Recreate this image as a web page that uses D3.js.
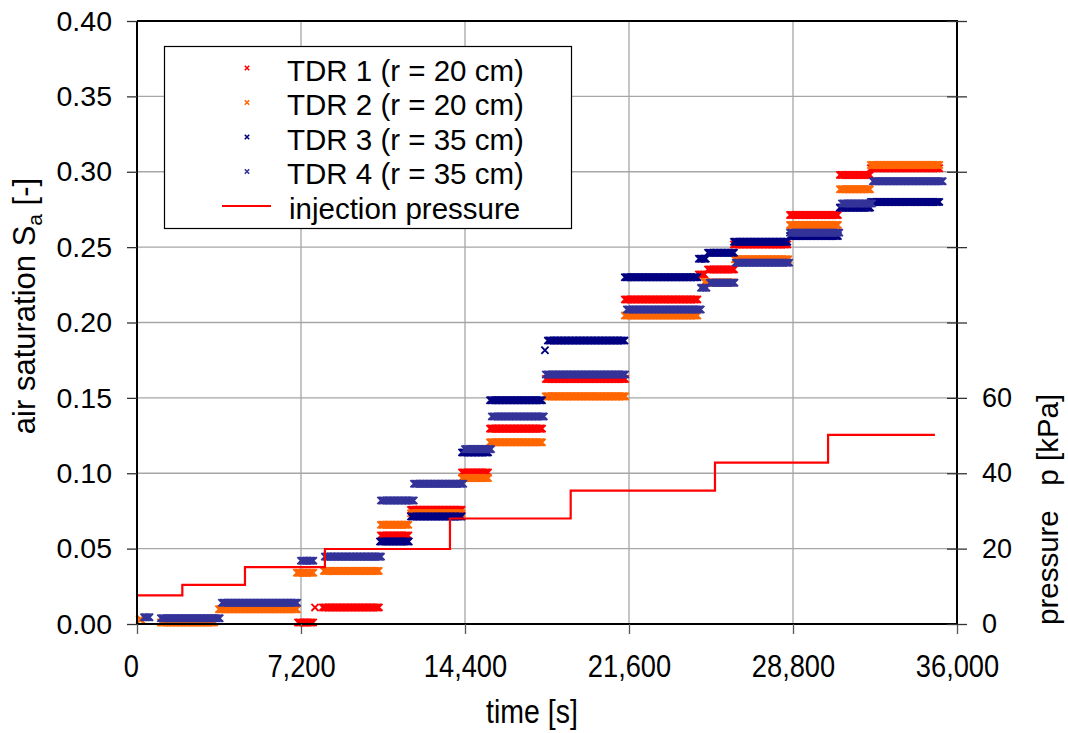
<!DOCTYPE html>
<html>
<head>
<meta charset="utf-8">
<script src="https://cdn.jsdelivr.net/npm/d3@7"></script>
<style>
  body { margin: 0; background: #fff; }
  text { font-family: "Liberation Sans", Arial, sans-serif; fill: #000; }
</style>
</head>
<body>
<svg id="chart" width="1068" height="733"></svg>
<script>
// ---- axis ticks -------------------------------------------------------
const timeTicks = [0, 7200, 14400, 21600, 28800, 36000];
const timeTickLabels = ["0", "7,200", "14,400", "21,600", "28,800", "36,000"];
const satTicks = [0, 0.05, 0.10, 0.15, 0.20, 0.25, 0.30, 0.35, 0.40];
const satTickLabels = ["0.00", "0.05", "0.10", "0.15", "0.20", "0.25", "0.30", "0.35", "0.40"];
const pressureTicks = [0, 20, 40, 60, 80, 100, 120, 140, 160];
const pressureTickLabels = ["0", "20", "40", "60", "", "", "", "", ""];

// ---- TDR readings: plateaus [start s, end s, S_a] and single readings [t s, S_a]
const tdr1Plateaus = [
  [7070, 7770, 0.001], [8160, 10630, 0.011], [10710, 11940, 0.0587],
  [12030, 14270, 0.0757], [14270, 15410, 0.1005], [15500, 17830, 0.1296],
  [17950, 21430, 0.1625], [21420, 24630, 0.2153], [24670, 24940, 0.2319],
  [25070, 26210, 0.2352], [26210, 28580, 0.2518], [28670, 30820, 0.2713],
  [30860, 32180, 0.2979], [32220, 35250, 0.3023]
];
const tdr1Single = [[7815, 0.011]];

const tdr2Plateaus = [
  [120, 230, 0.003], [1050, 3430, 0.001], [3600, 7030, 0.0098],
  [7020, 7770, 0.034], [8210, 10630, 0.0352], [10710, 11940, 0.0658],
  [12030, 14270, 0.0735], [14270, 15410, 0.0968], [15500, 17830, 0.1205],
  [17950, 21430, 0.151], [21420, 24630, 0.2046], [24940, 26210, 0.2266],
  [26250, 28620, 0.2419], [28670, 30820, 0.2647], [30860, 32180, 0.2884],
  [32220, 35250, 0.3045]
];
const tdr2Single = [[24940, 0.2272]];

const tdr3Plateaus = [
  [10670, 11940, 0.0547], [12030, 14270, 0.0713], [14270, 15410, 0.1138],
  [15500, 17830, 0.1484], [18040, 21430, 0.188], [21420, 24630, 0.230],
  [24670, 25020, 0.2423], [25070, 26210, 0.2463], [26210, 28580, 0.2536],
  [28670, 30820, 0.2574], [30860, 32180, 0.2762], [32220, 35250, 0.280]
];
const tdr3Single = [[17910, 0.1816]];

const tdr4Plateaus = [
  [310, 570, 0.0045], [1050, 3650, 0.0038], [3730, 7070, 0.0141],
  [7200, 7770, 0.042], [8250, 10710, 0.0447], [10710, 12160, 0.0819],
  [12160, 14360, 0.093], [14400, 15590, 0.116], [15580, 17910, 0.1377],
  [17950, 21470, 0.1655], [21510, 24760, 0.2086], [24760, 25020, 0.223],
  [25150, 26250, 0.2264], [26290, 28670, 0.2397], [28670, 30860, 0.2596],
  [30950, 32270, 0.279], [32310, 35380, 0.2937]
];
const tdr4Single = [];

// injection pressure steps [t s, p kPa] (value holds until the next step)
const pressureSteps = [
  [0, 7.6], [1990, 10.4], [4740, 15.1], [8250, 19.9], [13740, 28.0],
  [19040, 35.4], [25375, 42.8], [30340, 50.2], [35030, 50.2]
];

const LOG_INTERVAL = 60; // TDR logging interval, s

const seriesNames = ["TDR 1 (r = 20 cm)", "TDR 2 (r = 20 cm)", "TDR 3 (r = 35 cm)", "TDR 4 (r = 35 cm)"];
const seriesColors = ["#ff0000", "#ff6600", "#000080", "#333399"];
const pressureName = "injection pressure";

// ---- layout --------------------------------------------------------------
const svg = d3.select("#chart");
const plot = { left: 137, right: 957, top: 21, bottom: 624 };

const x = d3.scaleLinear().domain([0, 36000]).range([plot.left, plot.right]);
const y = d3.scaleLinear().domain([0, 0.40]).range([plot.bottom, plot.top]);
const yp = d3.scaleLinear().domain([0, 160]).range([plot.bottom, plot.top]);

svg.append("rect").attr("width", 1068).attr("height", 733).attr("fill", "#fff");

// grid
const grid = svg.append("g").attr("stroke", "#a6a6a6").attr("stroke-width", 1.3);
grid.selectAll("line.v").data(timeTicks.slice(1, -1)).join("line")
  .attr("x1", d => x(d)).attr("x2", d => x(d))
  .attr("y1", plot.top).attr("y2", plot.bottom);
grid.selectAll("line.h").data(satTicks.slice(1, -1)).join("line")
  .attr("x1", plot.left).attr("x2", plot.right)
  .attr("y1", d => y(d)).attr("y2", d => y(d));

// TDR readings
const markerPath = "M-3.6,-3.6L3.6,3.6M-3.6,3.6L3.6,-3.6";
function readings(plateaus, singles) {
  const pts = [];
  plateaus.forEach(([t0, t1, v]) => {
    d3.range(t0, t1 + 1, LOG_INTERVAL).forEach(t => pts.push([t, v]));
  });
  singles.forEach(p => pts.push(p));
  return pts;
}
const allSeries = [
  readings(tdr1Plateaus, tdr1Single),
  readings(tdr2Plateaus, tdr2Single),
  readings(tdr3Plateaus, tdr3Single),
  readings(tdr4Plateaus, tdr4Single)
];
allSeries.forEach((pts, i) => {
  svg.append("g")
    .attr("stroke", seriesColors[i]).attr("stroke-width", 1.9).attr("fill", "none")
    .selectAll("path").data(pts).join("path")
    .attr("d", markerPath)
    .attr("transform", d => `translate(${x(d[0])},${y(d[1])})`);
});

// injection pressure
const pLine = d3.line().curve(d3.curveStepAfter).x(d => x(d[0])).y(d => yp(d[1]));
svg.append("path").datum(pressureSteps)
  .attr("d", pLine).attr("fill", "none")
  .attr("stroke", "#ff0000").attr("stroke-width", 2.2);

// frame
const frame = svg.append("g").attr("stroke", "#000").attr("stroke-width", 2);
frame.append("line").attr("x1", plot.left).attr("x2", plot.right).attr("y1", plot.top).attr("y2", plot.top);
frame.append("line").attr("x1", plot.left).attr("x2", plot.right).attr("y1", plot.bottom).attr("y2", plot.bottom);
frame.append("line").attr("x1", plot.left).attr("x2", plot.left).attr("y1", plot.top).attr("y2", plot.bottom + 1);
frame.append("line").attr("x1", plot.right).attr("x2", plot.right).attr("y1", plot.top - 1).attr("y2", plot.bottom + 1);

// left axis
const axL = svg.append("g").attr("transform", `translate(${plot.left},0)`)
  .call(d3.axisLeft(y).tickValues(satTicks).tickFormat((d, i) => satTickLabels[i])
    .tickSize(10).tickPadding(15));
axL.select(".domain").remove();
axL.selectAll("line").attr("stroke", "#333").attr("stroke-width", 1.3);
axL.selectAll("text").attr("font-size", 28.5).attr("font-family", null);

// bottom axis
const axB = svg.append("g").attr("transform", `translate(0,${plot.bottom})`)
  .call(d3.axisBottom(x).tickValues(timeTicks).tickFormat((d, i) => timeTickLabels[i])
    .tickSize(10).tickPadding(21));
axB.select(".domain").remove();
axB.selectAll("line").attr("stroke", "#555").attr("stroke-width", 1.3);
axB.selectAll("text").attr("font-size", 31).attr("font-family", null)
  .attr("transform", "scale(0.88,1)");
axB.selectAll(".tick").filter(d => d === 0).select("text").attr("x", -7);

// right axis (pressure)
const axR = svg.append("g").attr("transform", `translate(${plot.right},0)`)
  .call(d3.axisRight(yp).tickValues(pressureTicks).tickFormat((d, i) => pressureTickLabels[i])
    .tickSizeInner(10).tickSizeOuter(0).tickPadding(15));
axR.select(".domain").remove();
axR.selectAll(".tick line").attr("x1", -10).attr("stroke", "#333").attr("stroke-width", 1.3);
axR.selectAll("text").attr("font-size", 27).attr("font-family", null);

// axis titles
const yTitle = svg.append("text")
  .attr("transform", "translate(35,306) rotate(-90)")
  .attr("text-anchor", "middle").attr("font-size", 31);
yTitle.append("tspan").text("air saturation S");
yTitle.append("tspan").attr("font-size", 21).attr("dy", 7).text("a");
yTitle.append("tspan").attr("dy", -7).text(" [-]");

svg.append("text")
  .attr("transform", "translate(1058,625) rotate(-90)")
  .attr("text-anchor", "start").attr("font-size", 29.5)
  .attr("xml:space", "preserve").style("white-space", "pre")
  .text("pressure   p [kPa]");

svg.append("text")
  .attr("transform", "translate(532,723) scale(0.92,1.08)")
  .attr("text-anchor", "middle").attr("font-size", 31)
  .text("time [s]");

// legend
const leg = svg.append("g");
leg.append("rect").attr("x", 164.5).attr("y", 46.5).attr("width", 407).attr("height", 182)
  .attr("fill", "#fff").attr("stroke", "#000").attr("stroke-width", 1.2);
const rowY = [68, 102.5, 137, 171.5, 206];
seriesNames.forEach((name, i) => {
  leg.append("path").attr("d", "M-2.2,-2.2L2.2,2.2M-2.2,2.2L2.2,-2.2")
    .attr("transform", `translate(247,${rowY[i]})`)
    .attr("stroke", seriesColors[i]).attr("stroke-width", 1.6);
  leg.append("text").attr("x", 287).attr("y", rowY[i] + 12.5).attr("font-size", 29.5).text(name);
});
leg.append("line").attr("x1", 222).attr("x2", 271).attr("y1", rowY[4]).attr("y2", rowY[4])
  .attr("stroke", "#ff0000").attr("stroke-width", 2);
leg.append("text").attr("x", 289).attr("y", rowY[4] + 12.5).attr("font-size", 29.5).text(pressureName);
</script>
</body>
</html>
